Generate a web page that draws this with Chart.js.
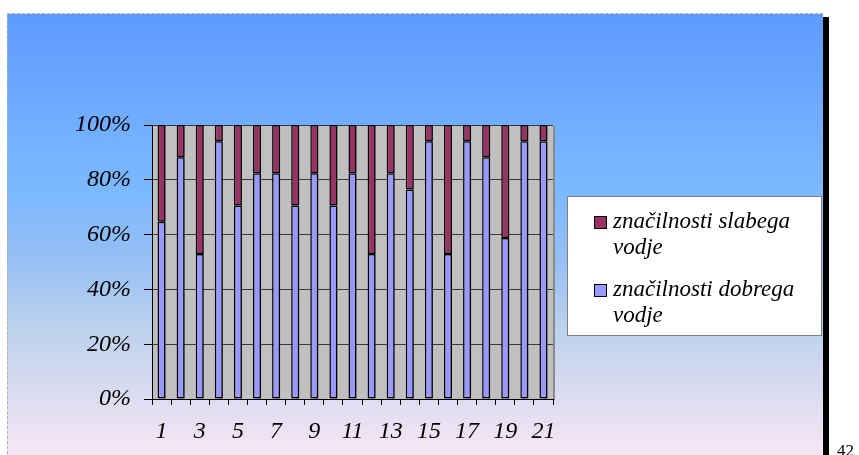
<!DOCTYPE html>
<html>
<head>
<meta charset="utf-8">
<script src="https://cdn.jsdelivr.net/npm/chart.js@4/dist/chart.umd.min.js"></script>
<style>
  html, body { margin: 0; padding: 0; background: #fff; width: 859px; height: 455px; overflow: hidden; }
  #panel {
    position: absolute; left: 7px; top: 13px; width: 815px; height: 450px;
    border-top: 1px dashed #b0b0b0; border-left: 1px dashed #b0b0b0;
    background: linear-gradient(to bottom, #5e9bff 0%, #7db9ff 40%, #97bff5 55%, #bcd2ec 70%, #dcdcf0 85%, #fbe8f6 100%);
  }
  #edge { position: absolute; left: 823px; top: 17px; width: 6px; height: 440px; background: #000; }
  #wrap { position: absolute; left: 0; top: 0; width: 859px; height: 455px; }
</style>
</head>
<body>
<div id="panel"></div>
<div id="edge"></div>
<div id="wrap"><canvas id="chart"></canvas></div>
<script>
const categories = ['1','2','3','4','5','6','7','8','9','10','11','12','13','14','15','16','17','18','19','20','21']
// share of answers in percent (17 respondents)
const goodLeader = [64.7, 88.2, 52.9, 94.1, 70.6, 82.4, 82.4, 70.6, 82.4, 70.6, 82.4, 52.9, 82.4, 76.5, 94.1, 52.9, 94.1, 88.2, 58.8, 94.1, 94.1]
const weakLeader = [35.3, 11.8, 47.1, 5.9, 29.4, 17.6, 17.6, 29.4, 17.6, 29.4, 17.6, 47.1, 17.6, 23.5, 5.9, 47.1, 5.9, 11.8, 41.2, 5.9, 5.9]
const seriesNames = ['značilnosti dobrega vodje', 'značilnosti slabega vodje']
const yTicks = [0, 20, 40, 60, 80, 100]
const pageNumber = '42'

const serif = '"Liberation Serif", "Times New Roman", serif'

const plotBackground = {
  id: 'plotBackground',
  beforeDraw(chart) {
    const { ctx, chartArea: a } = chart
    ctx.save()
    ctx.fillStyle = '#c0c0c0'
    ctx.fillRect(a.left, a.top, a.right - a.left, a.bottom - a.top)
    ctx.fillStyle = '#8a8a8a'
    ctx.fillRect(a.right, a.top + 1, 2, a.bottom - a.top)
    ctx.restore()
  },
  beforeDatasetsDraw(chart) {
    const ctx = chart.ctx
    ctx.save()
    ctx.shadowColor = 'rgba(0,0,0,0.35)'
    ctx.shadowOffsetX = 3
    ctx.shadowOffsetY = 1
    ctx.shadowBlur = 0
  },
  afterDatasetsDraw(chart) {
    chart.ctx.restore()
  },
}

// legend box on the right, with wrapped labels, drawn on the canvas
const boxLegend = {
  id: 'boxLegend',
  afterDraw(chart) {
    const ctx = chart.ctx
    const x = 567, y = 196, w = 255, h = 140
    ctx.save()
    ctx.fillStyle = '#fff'
    ctx.fillRect(x, y, w, h)
    ctx.strokeStyle = '#808080'
    ctx.lineWidth = 1
    ctx.strokeRect(x + 0.5, y + 0.5, w - 1, h - 1)
    ctx.font = 'italic 23px ' + serif
    ctx.textBaseline = 'middle'
    const items = chart.data.datasets.slice().reverse()
    let lineY = y + 26
    items.forEach(ds => {
      const words = ds.label.split(' ')
      const lines = []
      let cur = ''
      words.forEach(word => {
        const test = cur ? cur + ' ' + word : word
        if (ctx.measureText(test).width > 200 && cur) {
          lines.push(cur)
          cur = word
        } else {
          cur = test
        }
      })
      lines.push(cur)
      ctx.fillStyle = ds.backgroundColor
      ctx.fillRect(x + 27, lineY - 6, 13, 13)
      ctx.strokeStyle = '#000'
      ctx.strokeRect(x + 27.5, lineY - 5.5, 12, 12)
      ctx.fillStyle = '#000'
      lines.forEach((line, i) => ctx.fillText(line, x + 46, lineY + i * 26))
      lineY += lines.length * 26 + 16
    })
    ctx.font = '17px ' + serif
    ctx.textBaseline = 'alphabetic'
    ctx.fillText(pageNumber, 837, 456)
    ctx.restore()
  },
}

const tickFont = { family: serif, size: 24, style: 'italic' }

new Chart(document.getElementById('chart').getContext('2d'), {
  type: 'bar',
  data: {
    labels: categories,
    datasets: [
      {
        label: seriesNames[0],
        data: goodLeader,
        backgroundColor: '#9999ff',
        borderColor: '#000',
        borderWidth: 1.5,
        borderSkipped: false,
      },
      {
        label: seriesNames[1],
        data: weakLeader,
        backgroundColor: '#993366',
        borderColor: '#000',
        borderWidth: 1.5,
        borderSkipped: false,
      },
    ],
  },
  options: {
    responsive: true,
    maintainAspectRatio: false,
    animation: false,
    datasets: { bar: { barPercentage: 0.42, categoryPercentage: 1 } },
    layout: { padding: { top: 125, right: 306, left: 0, bottom: 0 } },
    plugins: {
      legend: { display: false },
      tooltip: { enabled: false },
    },
    scales: {
      x: {
        stacked: true,
        afterFit(scale) { scale.height = 56 },
        grid: { drawOnChartArea: false, drawTicks: true, tickLength: 6, color: '#000', offset: true },
        border: { display: true, color: '#000', width: 1 },
        ticks: {
          autoSkip: false,
          maxRotation: 0,
          padding: 12,
          color: '#000',
          font: tickFont,
          callback(value, index) { return index % 2 === 0 ? categories[index] : '' },
        },
      },
      y: {
        stacked: true,
        min: 0,
        max: 100,
        afterFit(scale) { scale.width = 152 },
        afterBuildTicks(scale) { scale.ticks = yTicks.map(v => ({ value: v })) },
        grid: { color: '#3a3a3a', lineWidth: 1, tickLength: 8, tickColor: '#000' },
        border: { display: true, color: '#000', width: 1 },
        ticks: {
          padding: 13,
          color: '#000',
          font: tickFont,
          callback(value) { return value + '%' },
        },
      },
    },
  },
  plugins: [plotBackground, boxLegend],
})
</script>
</body>
</html>
